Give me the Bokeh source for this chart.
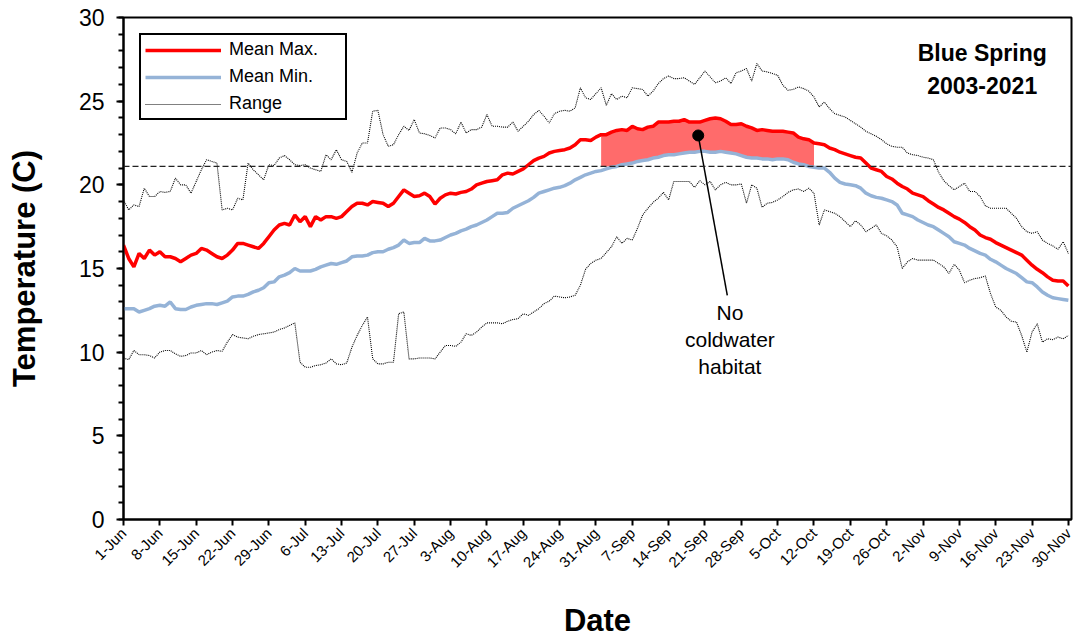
from math import pi

import numpy as np
from bokeh.embed import file_html
from bokeh.models import (FixedTicker, Label, Legend, LegendItem, Range1d,
                          SingleIntervalTicker, Span)
from bokeh.plotting import figure
from bokeh.resources import INLINE

FONT = "Liberation Sans"

# Weekly date ticks, 1-Jun through 30-Nov
tick_labels = ["1-Jun", "8-Jun", "15-Jun", "22-Jun", "29-Jun", "6-Jul", "13-Jul",
               "20-Jul", "27-Jul", "3-Aug", "10-Aug", "17-Aug", "24-Aug", "31-Aug",
               "7-Sep", "14-Sep", "21-Sep", "28-Sep", "5-Oct", "12-Oct", "19-Oct",
               "26-Oct", "2-Nov", "9-Nov", "16-Nov", "23-Nov", "30-Nov"]

# Daily mean of the daily maximum temperature (C), 1-Jun .. 30-Nov
mean_max = [
    16.4, 15.6, 15.1, 15.9, 15.6, 16.1, 15.8, 16.0, 15.7, 15.7,
    15.6, 15.4, 15.6, 15.8, 15.9, 16.2, 16.1, 15.9, 15.7, 15.6,
    15.8, 16.1, 16.5, 16.5, 16.4, 16.3, 16.2, 16.5, 16.9, 17.3,
    17.6, 17.7, 17.6, 18.2, 17.8, 18.1, 17.5, 18.1, 17.9, 18.1,
    18.1, 18.0, 18.1, 18.4, 18.7, 18.9, 18.9, 18.8, 19.0, 18.95,
    18.9, 18.7, 18.9, 19.3, 19.7, 19.5, 19.3, 19.35, 19.5, 19.3,
    18.85, 19.2, 19.4, 19.5, 19.45, 19.55, 19.6, 19.75, 20.0, 20.1,
    20.2, 20.25, 20.3, 20.6, 20.7, 20.65, 20.8, 20.95, 21.2, 21.45,
    21.6, 21.7, 21.9, 22.0, 22.05, 22.1, 22.2, 22.4, 22.7, 22.7,
    22.65, 22.85, 23.0, 23.0, 23.15, 23.25, 23.3, 23.25, 23.5, 23.35,
    23.3, 23.45, 23.5, 23.75, 23.75, 23.75, 23.8, 23.8, 23.9, 23.75,
    23.75, 23.75, 23.85, 23.95, 24.0, 23.95, 23.8, 23.6, 23.6, 23.65,
    23.5, 23.4, 23.25, 23.3, 23.25, 23.2, 23.2, 23.2, 23.15, 23.1,
    22.85, 22.75, 22.7, 22.5, 22.45, 22.4, 22.2, 22.1, 21.95, 21.85,
    21.75, 21.65, 21.6, 21.3, 21.0, 20.9, 20.8, 20.5, 20.35, 20.1,
    19.9, 19.75, 19.5, 19.4, 19.3, 19.05, 18.85, 18.65, 18.5, 18.3,
    18.1, 17.95, 17.75, 17.5, 17.3, 17.0, 16.85, 16.75, 16.55, 16.4,
    16.25, 16.1, 15.95, 15.8, 15.5, 15.2, 14.95, 14.75, 14.5, 14.3,
    14.25, 14.25, 13.95,
]

# Daily mean of the daily minimum temperature (C)
mean_min = [
    12.6, 12.6, 12.6, 12.4, 12.5, 12.6, 12.75, 12.8, 12.75, 13.0,
    12.6, 12.55, 12.55, 12.7, 12.8, 12.85, 12.9, 12.9, 12.85, 12.95,
    13.05, 13.3, 13.35, 13.35, 13.45, 13.6, 13.7, 13.85, 14.15, 14.2,
    14.5, 14.6, 14.75, 15.0, 14.85, 14.85, 14.85, 14.95, 15.1, 15.2,
    15.3, 15.25, 15.35, 15.45, 15.7, 15.75, 15.75, 15.8, 15.95, 16.0,
    16.0, 16.15, 16.25, 16.4, 16.7, 16.5, 16.55, 16.55, 16.8, 16.65,
    16.65, 16.7, 16.85, 17.0, 17.1, 17.25, 17.35, 17.5, 17.6, 17.75,
    17.9, 18.1, 18.3, 18.3, 18.35, 18.6, 18.75, 18.9, 19.05, 19.25,
    19.5, 19.6, 19.7, 19.8, 19.85, 19.95, 20.1, 20.3, 20.45, 20.6,
    20.7, 20.8, 20.85, 20.95, 21.05, 21.1, 21.2, 21.25, 21.3, 21.4,
    21.45, 21.5, 21.6, 21.65, 21.75, 21.8, 21.8, 21.85, 21.9, 21.95,
    21.95, 22.0, 22.0, 21.95, 21.95, 22.0, 21.95, 21.9, 21.85, 21.75,
    21.65, 21.6, 21.6, 21.55, 21.55, 21.5, 21.55, 21.55, 21.5, 21.35,
    21.25, 21.2, 21.1, 21.05, 21.0, 21.0, 20.75, 20.4, 20.15, 20.05,
    20.0, 19.95, 19.8, 19.5, 19.35, 19.25, 19.2, 19.1, 19.0, 18.8,
    18.3, 18.2, 18.1, 17.9, 17.75, 17.6, 17.5, 17.3, 17.1, 16.9,
    16.6, 16.5, 16.4, 16.2, 16.05, 15.9, 15.8, 15.55, 15.4, 15.2,
    15.0, 14.85, 14.7, 14.45, 14.2, 14.15, 13.9, 13.6, 13.4, 13.25,
    13.2, 13.15, 13.1,
]

# Highest daily maximum on record for each date (C)
range_high = [
    19.1, 18.5, 18.8, 18.7, 19.8, 19.3, 19.3, 19.6, 19.55, 19.6,
    20.4, 20.0, 20.0, 19.5, 20.2, 20.9, 21.5, 21.4, 21.3, 18.5,
    18.6, 18.5, 19.2, 19.1, 21.3, 20.9, 20.6, 20.3, 21.2, 21.15,
    21.6, 21.75, 21.5, 21.2, 21.15, 21.2, 21.0, 20.9, 20.8, 21.8,
    21.5, 22.1, 21.5, 21.4, 20.75, 21.9, 22.5, 22.5, 24.4, 24.45,
    23.0, 22.3, 22.4, 23.0, 23.5, 23.25, 23.9, 23.1, 23.05, 22.95,
    22.8, 23.4, 23.4, 23.3, 23.05, 23.75, 23.1, 23.3, 23.3, 23.45,
    24.2, 23.5, 23.5, 23.45, 23.45, 23.75, 23.2, 23.5, 23.8, 24.2,
    24.45, 24.1, 23.7, 24.25, 24.4, 24.45, 24.4, 24.6, 25.8, 25.2,
    25.1, 25.45, 25.8, 24.75, 25.45, 25.1, 25.3, 25.2, 25.8, 25.75,
    25.7, 25.3, 25.6, 26.05, 26.35, 26.5, 26.35, 26.35, 26.4, 26.2,
    26.0, 26.4, 26.8, 26.45, 26.1, 26.2, 26.4, 26.05, 26.7, 26.8,
    26.95, 26.2, 27.25, 26.8, 26.75, 26.65, 26.55, 25.95, 25.65, 25.7,
    25.85, 25.75, 25.6, 25.25, 24.65, 24.95, 24.55, 24.25, 24.15, 24.05,
    23.85, 23.65, 23.45, 23.2, 23.05, 22.9, 22.7, 22.45, 22.3, 22.25,
    22.25, 21.9, 21.8, 21.75, 21.65, 21.6, 21.5, 20.75, 20.25, 19.95,
    19.7, 19.9, 20.1, 19.6, 19.6, 19.3, 18.75, 18.6, 18.6, 18.6,
    18.6, 18.3, 18.0, 17.5, 17.2, 17.1, 17.2, 16.7, 16.5, 16.35,
    16.15, 16.6, 15.9,
]

# Lowest daily minimum on record for each date (C)
range_low = [
    9.65, 9.55, 10.1, 9.85, 9.85, 9.8, 9.65, 10.0, 10.1, 10.1,
    9.9, 9.75, 9.8, 9.95, 9.95, 10.1, 9.85, 10.0, 10.1, 10.05,
    10.6, 11.05, 10.9, 10.85, 10.8, 10.95, 11.05, 11.1, 11.15, 11.2,
    11.35, 11.45, 11.6, 11.75, 9.4, 9.1, 9.1, 9.2, 9.25, 9.35,
    9.6, 9.3, 9.25, 9.35, 10.3, 11.0, 11.6, 12.1, 9.6, 9.3,
    9.3, 9.4, 9.4, 12.3, 12.4, 9.6, 9.6, 9.65, 9.65, 9.65,
    9.6, 10.0, 10.4, 10.4, 10.35, 10.6, 11.1, 11.0, 11.2, 11.5,
    11.75, 11.75, 11.75, 11.7, 11.85, 11.95, 12.0, 12.3, 12.2, 12.4,
    12.6, 12.9, 13.05, 13.35, 13.3, 13.25, 13.3, 13.4, 14.0, 14.95,
    15.3, 15.5, 15.6, 15.95, 16.3, 16.9, 16.5, 16.8, 16.7, 17.4,
    18.2, 18.6, 18.95, 19.2, 19.55, 19.1, 20.2, 20.2, 20.2, 20.2,
    19.85, 20.25, 20.0, 20.2, 19.7, 20.0, 20.15, 20.0, 20.0, 20.05,
    18.9, 20.0, 19.8, 18.65, 18.9, 18.95, 19.1, 19.3, 19.55, 19.7,
    19.75, 19.6, 19.8, 19.5, 17.6, 18.5, 18.4, 18.3, 18.1, 17.8,
    17.5, 17.85, 17.6, 17.2, 17.4, 17.6, 17.1, 16.95, 16.7, 16.3,
    15.0, 15.4, 15.6, 15.5, 15.5, 15.5, 15.5, 15.3, 15.1, 14.7,
    15.25, 14.9, 14.15, 14.3, 14.4, 14.45, 14.55, 13.5, 12.7, 12.5,
    12.1, 11.85, 11.8, 11.0, 10.0, 11.2, 11.7, 10.6, 10.8, 10.75,
    10.9, 10.8, 11.0,
]

# Coldwater habitat threshold (70 F) and the stretch (1-Sep .. 12-Oct) where it is exceeded
threshold = 21.1
shade_first_day = 92
shade_last_day = 133

days = np.arange(len(mean_max))
tick_days = list(range(0, len(mean_max), 7))

p = figure(width=1074, height=640, output_backend="svg", toolbar_location=None,
           x_range=Range1d(0, 182.6), y_range=Range1d(0, 30),
           min_border_left=123, min_border_right=3, min_border_top=17,
           min_border_bottom=120)
p.background_fill_color = "white"
p.border_fill_color = "white"
p.outline_line_color = "black"
p.outline_line_width = 2
p.grid.visible = False

# Record range (upper and lower envelope)
r_range = p.line(days, range_high, line_color="black", line_width=1.1, line_dash="1 1")
p.line(days, range_low, line_color="black", line_width=1.1, line_dash="1 1")

# Shaded band: mean max above the threshold / mean min
sl = slice(shade_first_day, shade_last_day + 1)
shade_x = days[sl]
shade_top = np.array(mean_max)[sl]
shade_bottom = np.maximum(np.array(mean_min)[sl], threshold)
p.varea(x=shade_x, y1=shade_bottom, y2=shade_top, fill_color="#FF6B6B")

p.add_layout(Span(location=threshold, dimension="width", line_color="#222222",
                  line_width=1.2, line_dash="6 3"))

r_min = p.line(days, mean_min, line_color="#95B3D7", line_width=3.5)
r_max = p.line(days, mean_max, line_color="#FF0000", line_width=3.5)

# Callout for the band
callout_x, callout_y = 110.7, 22.95
p.segment(x0=[callout_x], y0=[callout_y], x1=[116.3], y1=[13.4],
          line_color="black", line_width=1.5)
p.scatter([callout_x], [callout_y], size=11, color="black")
for txt, yy in (("No", 12.4), ("coldwater", 10.73), ("habitat", 9.12)):
    p.add_layout(Label(x=116.8, y=yy, text=txt, text_align="center",
                       text_baseline="middle", text_font=FONT,
                       text_font_size="21px", text_color="black"))

for txt, yy in (("Blue Spring", 27.9), ("2003-2021", 25.95)):
    p.add_layout(Label(x=165.4, y=yy, text=txt, text_align="center",
                       text_baseline="middle", text_font=FONT,
                       text_font_size="23px", text_font_style="bold",
                       text_color="black"))

legend = Legend(items=[LegendItem(label="Mean Max.", renderers=[r_max]),
                       LegendItem(label="Mean Min.", renderers=[r_min]),
                       LegendItem(label="Range", renderers=[r_range])],
                location="top_left", margin=16, padding=4, spacing=6,
                glyph_width=76, glyph_height=20, label_height=20,
                label_width=112, label_standoff=8,
                label_text_font=FONT, label_text_font_size="18px",
                label_text_color="black",
                border_line_color="black", border_line_width=2,
                border_line_alpha=1.0,
                background_fill_color="white", background_fill_alpha=1)
p.add_layout(legend)

# Axes
xa = p.xaxis[0]
xa.ticker = FixedTicker(ticks=tick_days)
xa.major_label_overrides = {d: lab for d, lab in zip(tick_days, tick_labels)}
xa.major_label_orientation = pi / 4
xa.major_label_text_font = FONT
xa.major_label_text_font_size = "15px"
xa.major_label_text_color = "black"
xa.major_tick_in = 0
xa.major_tick_out = 6
xa.minor_tick_line_color = None
xa.axis_line_width = 2
xa.major_tick_line_width = 2
xa.axis_label = "Date"
xa.axis_label_text_font = FONT
xa.axis_label_text_font_size = "31px"
xa.axis_label_text_font_style = "bold"
xa.axis_label_text_color = "black"
xa.axis_label_standoff = 23

ya = p.yaxis[0]
ya.ticker = SingleIntervalTicker(interval=5, num_minor_ticks=5)
ya.major_label_text_font = FONT
ya.major_label_text_font_size = "23px"
ya.major_label_text_color = "black"
ya.major_label_standoff = 12
ya.major_tick_in = 0
ya.major_tick_out = 7
ya.minor_tick_in = 0
ya.minor_tick_out = 5
ya.axis_line_width = 2
ya.major_tick_line_width = 2
ya.minor_tick_line_width = 2
ya.axis_label = "Temperature (C)"
ya.axis_label_text_font = FONT
ya.axis_label_text_font_size = "31px"
ya.axis_label_text_font_style = "bold"
ya.axis_label_text_color = "black"
ya.axis_label_standoff = 34

with open("out.html", "w") as f:
    f.write(file_html(p, INLINE))
